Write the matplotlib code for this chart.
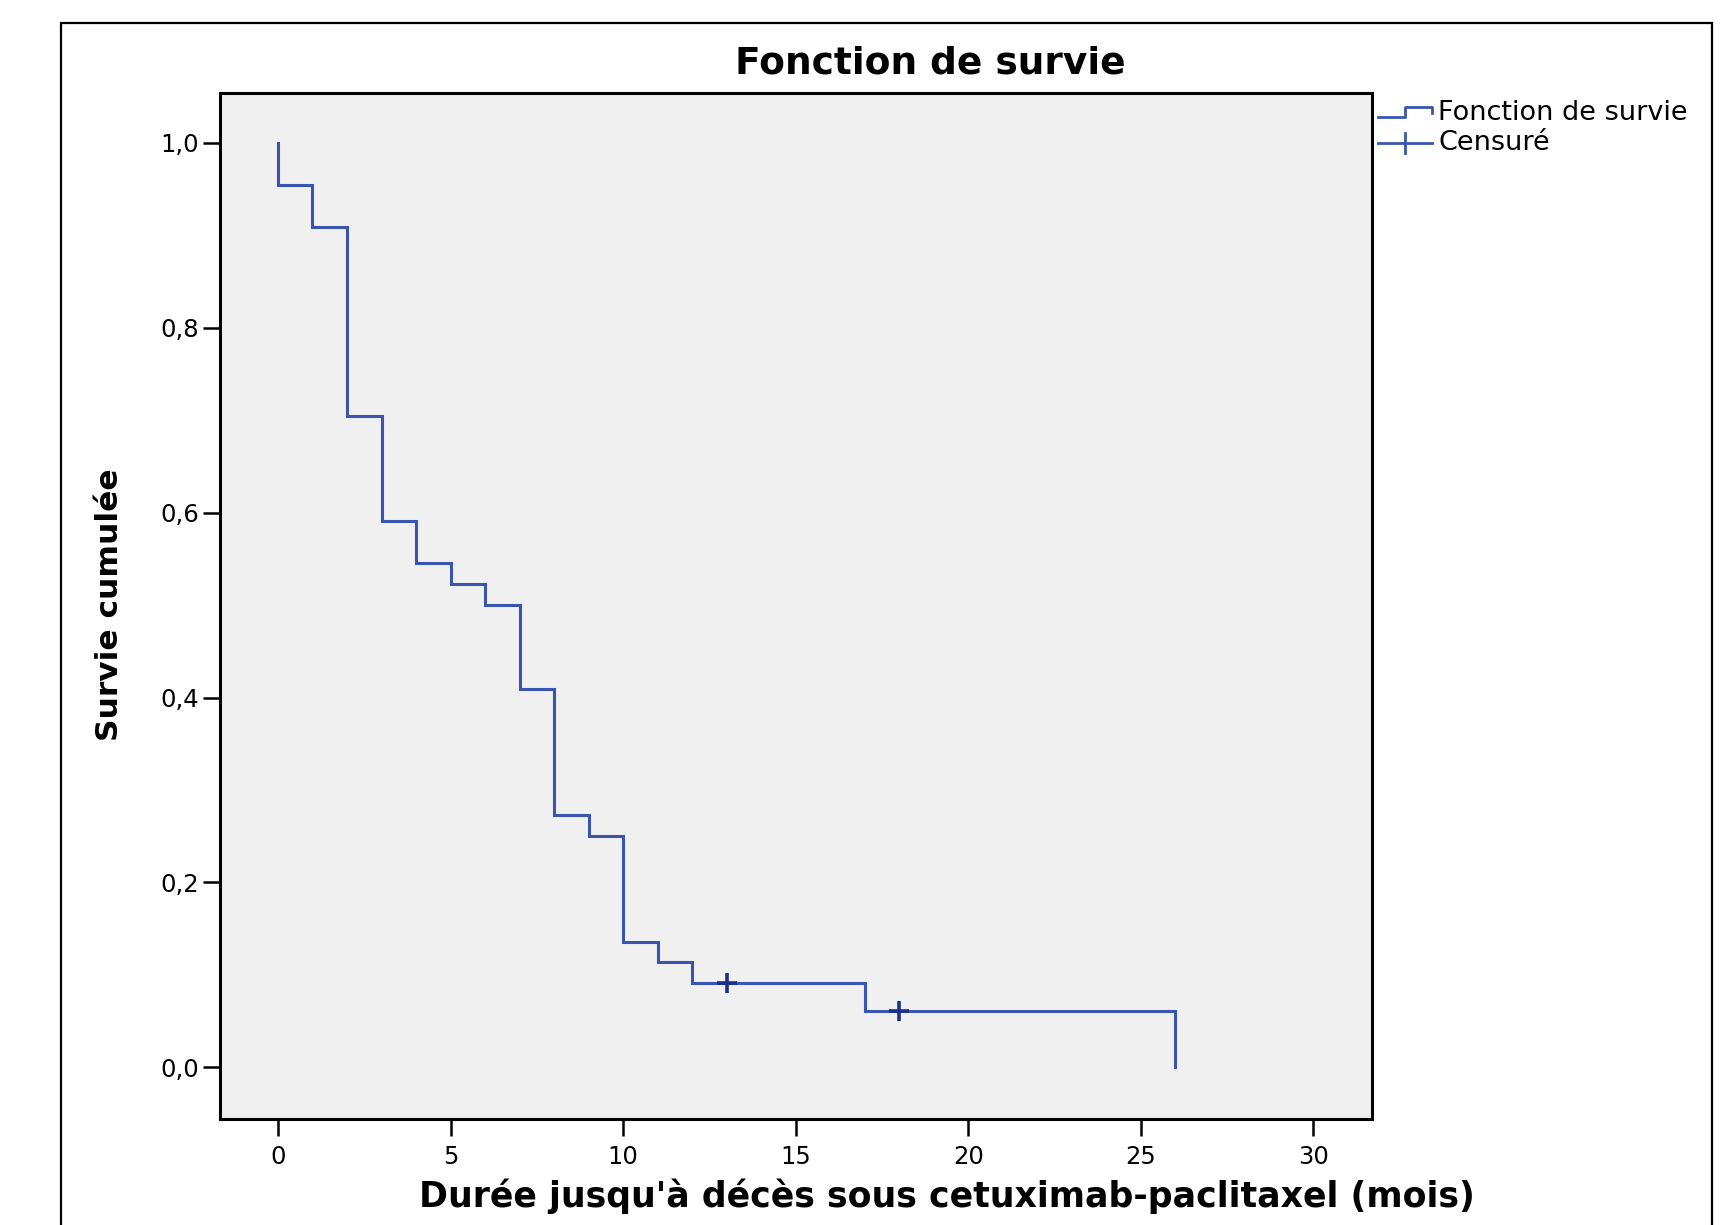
import matplotlib
matplotlib.use("Agg")
import matplotlib.pyplot as plt
from matplotlib.patches import Rectangle
from matplotlib.lines import Line2D

# ---- data ----
event_times = [0, 1, 2, 3, 4, 5, 6, 7, 8, 9, 10, 11, 12, 17, 26]
survival = [0.955, 0.909, 0.705, 0.591, 0.545, 0.523, 0.500, 0.409,
            0.273, 0.250, 0.136, 0.114, 0.091, 0.061, 0.0]
censored_times = [13, 18]
censored_surv = [0.091, 0.061]
x_ticks = [0, 5, 10, 15, 20, 25, 30]
y_ticks = [0.0, 0.2, 0.4, 0.6, 0.8, 1.0]
y_tick_labels = ["0,0", "0,2", "0,4", "0,6", "0,8", "1,0"]

W, H = 1730, 1225
fig = plt.figure(figsize=(W / 100, H / 100), dpi=100)
fig.patch.set_facecolor("white")

def fx(px):
    return px / W

def fy(py):
    return 1 - py / H

ax = fig.add_axes([fx(220), fy(1119), fx(1372) - fx(220), fy(93) - fy(1119)])
ax.set_facecolor("#f0f0f0")

line_color = "#3a55b0"
xs = [0] + event_times
ys = [1.0] + survival
ax.step(xs, ys, where="post", color=line_color, lw=2.2, solid_joinstyle="miter")
ax.plot(censored_times, censored_surv, linestyle="none", marker="+",
        markersize=14, markeredgewidth=2.6, color="#1a2f8a")

ax.set_xlim(-1.68, 31.7)
ax.set_ylim(-0.056, 1.054)
ax.set_xticks(x_ticks)
ax.set_xticklabels([str(t) for t in x_ticks])
ax.set_yticks(y_ticks)
ax.set_yticklabels(y_tick_labels)
ax.tick_params(axis="both", direction="out", length=12, width=1.8,
               labelsize=17.5, color="black")
ax.tick_params(axis="x", pad=7)
ax.tick_params(axis="y", pad=3)
for s in ax.spines.values():
    s.set_linewidth(2.2)
    s.set_color("black")

# titles and labels
fig.text(fx(930), fy(73), "Fonction de survie", ha="center", va="baseline",
         fontsize=27, fontweight="bold")
fig.text(fx(947), fy(1207), "Durée jusqu'à décès sous cetuximab-paclitaxel (mois)",
         ha="center", va="baseline", fontsize=25, fontweight="bold")
fig.text(fx(110), fy(605), "Survie cumulée", ha="center", va="center",
         rotation=90, fontsize=22.5, fontweight="bold")

# legend drawn manually
leg1 = Line2D([fx(1378), fx(1405), fx(1405), fx(1432), fx(1432)],
              [fy(117), fy(117), fy(107), fy(107), fy(113)],
              transform=fig.transFigure, color=line_color, lw=2.0)
leg2 = Line2D([fx(1378), fx(1432)], [fy(143), fy(143)],
              transform=fig.transFigure, color=line_color, lw=2.0)
leg3 = Line2D([fx(1405), fx(1405)], [fy(133), fy(153)],
              transform=fig.transFigure, color=line_color, lw=2.0)
for l in (leg1, leg2, leg3):
    fig.add_artist(l)
fig.text(fx(1438), fy(113), "Fonction de survie", ha="left", va="center", fontsize=19.5)
fig.text(fx(1438), fy(143), "Censuré", ha="left", va="center", fontsize=19.5)

# outer frame
frame = Rectangle((fx(61), fy(1240)), fx(1712) - fx(61), fy(23) - fy(1240),
                  transform=fig.transFigure, fill=False, edgecolor="black",
                  lw=1.6, clip_on=False)
fig.add_artist(frame)

fig.savefig("out.png", dpi=100)
